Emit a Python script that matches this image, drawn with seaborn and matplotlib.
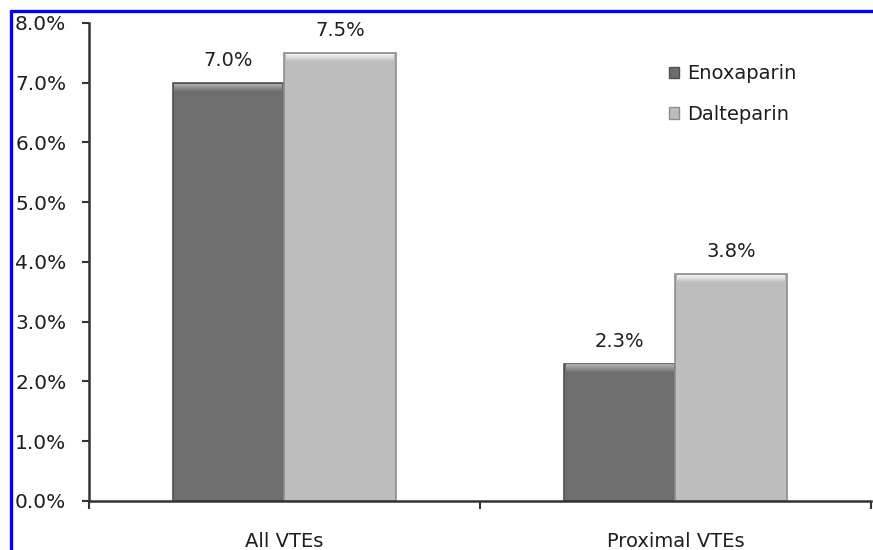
import matplotlib
matplotlib.use("Agg")
import matplotlib.pyplot as plt
from matplotlib.patches import Rectangle
from matplotlib.lines import Line2D
from matplotlib.ticker import FixedLocator, FuncFormatter
from matplotlib.colors import to_rgb
import seaborn as sns
import pandas as pd

# Incidence of venous thromboembolism by agent
categories = ["All VTEs", "Proximal VTEs"]
agents = ["Enoxaparin", "Dalteparin"]
enoxaparin = [7.0, 2.3]
dalteparin = [7.5, 3.8]
y_ticks = [0, 1, 2, 3, 4, 5, 6, 7, 8]

colors = {"Enoxaparin": "#6e6e6e", "Dalteparin": "#bdbdbd"}
bevel = {"Enoxaparin": "#a8a8a8", "Dalteparin": "#f0f0f0"}
edges = {"Enoxaparin": "#505050", "Dalteparin": "#8e8e8e"}

df = pd.DataFrame({
    "category": categories * 2,
    "agent": [agents[0]] * len(categories) + [agents[1]] * len(categories),
    "value": enoxaparin + dalteparin,
})

sns.set_style("white")
plt.rcParams["font.family"] = ["DejaVu Sans"]
text_color = "#1e1e1e"

fig = plt.figure(figsize=(8.73, 5.5), dpi=100)
ax = fig.add_axes([0.1014, 0.0891, 0.8963, 0.8691])

sns.barplot(data=df, x="category", y="value", hue="agent",
            order=categories, hue_order=agents, palette=colors,
            width=0.57, saturation=1, errorbar=None, ax=ax, legend=False)


def blend(c1, c2, t):
    a, b = to_rgb(c1), to_rgb(c2)
    return tuple(x + (y - x) * t for x, y in zip(a, b))


# bevelled look: darker outline and a light gradient along each bar top
steps = 8
band = 0.14
for container, agent in zip(ax.containers, agents):
    for patch in container.patches:
        patch.set_edgecolor(edges[agent])
        patch.set_linewidth(1.2)
        x0, w, h = patch.get_x(), patch.get_width(), patch.get_height()
        for i in range(steps):
            t = i / (steps - 1)
            ax.add_patch(Rectangle((x0 + w * 0.015, h - band * (i + 1) / steps - 0.015),
                                   w * 0.97, band / steps,
                                   facecolor=blend(bevel[agent], colors[agent], t),
                                   edgecolor="none", zorder=patch.get_zorder() + 0.1))
    ax.bar_label(container, labels=[f"{v:.1f}%" for v in container.datavalues],
                 padding=9, fontsize=14, color=text_color)

ax.set_ylim(0, 8)
ax.set_xlim(-0.5, 1.5)
ax.yaxis.set_major_locator(FixedLocator(y_ticks))
ax.yaxis.set_major_formatter(FuncFormatter(lambda v, _: f"{v:.1f}%"))
ax.set_xlabel("")
ax.set_ylabel("")

for side in ["top", "right"]:
    ax.spines[side].set_visible(False)
for side in ["left", "bottom"]:
    ax.spines[side].set_color("#333333")
    ax.spines[side].set_linewidth(1.8)

ax.tick_params(axis="y", which="major", left=True, length=5, width=1.5,
               color="#333333", pad=11, labelsize=14.5, labelcolor=text_color)
ax.tick_params(axis="x", which="major", bottom=False, length=0, pad=22,
               labelsize=14, labelcolor=text_color)
ax.xaxis.set_minor_locator(FixedLocator([-0.5, 0.5, 1.5]))
ax.tick_params(axis="x", which="minor", bottom=True, length=6, width=1.5,
               color="#333333")

handles = [Rectangle((0, 0), 1, 1, facecolor=colors[a], edgecolor=edges[a],
                     linewidth=1.0) for a in agents]
fig.legend(handles, agents, loc="center left", bbox_to_anchor=(0.766, 0.829),
           frameon=False, fontsize=14, handlelength=0.55, handleheight=0.55,
           handletextpad=0.4, labelspacing=1.1, borderpad=0, borderaxespad=0,
           labelcolor=text_color)

# blue frame along the top and left edges
fig.add_artist(Line2D([0.0126, 0.0126], [0.0, 0.98], transform=fig.transFigure,
                      color="#0000ff", linewidth=2.4))
fig.add_artist(Line2D([0.0126, 1.0], [0.98, 0.98], transform=fig.transFigure,
                      color="#0000ff", linewidth=2.4))

fig.savefig("out.png", dpi=100)
